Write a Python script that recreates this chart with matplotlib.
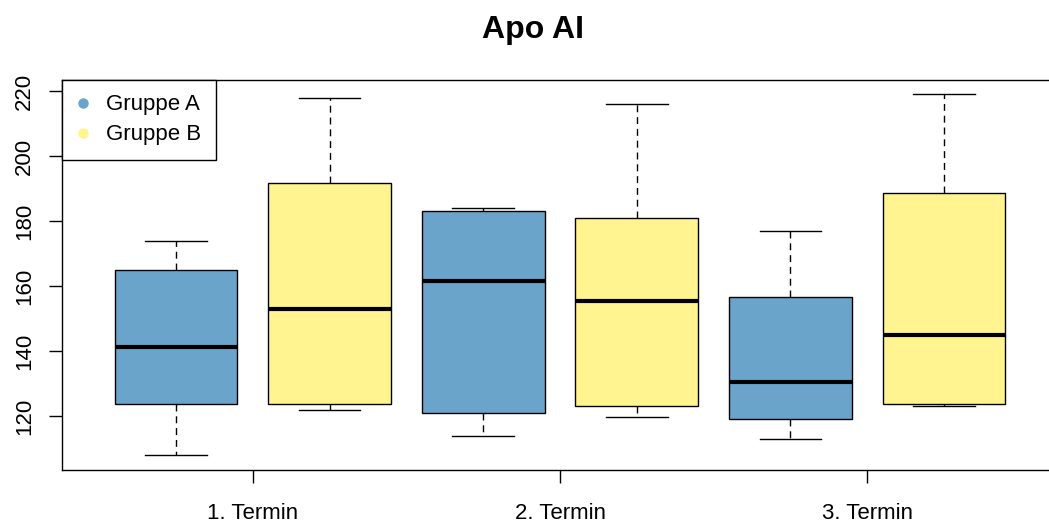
import matplotlib
matplotlib.use("Agg")
import matplotlib.pyplot as plt
from matplotlib.lines import Line2D

plt.rcParams['font.family'] = ['Liberation Sans', 'DejaVu Sans']

# Werte (Whisker unten, Q1, Median, Q3, Whisker oben)
termine = ['1. Termin', '2. Termin', '3. Termin']
gruppen = ['Gruppe A', 'Gruppe B']
farben = ['#6ba4cb', '#fff48f']

a_low = [108, 114, 113]
a_q1 = [123.7, 120.8, 119.1]
a_med = [141.3, 161.7, 130.5]
a_q3 = [165, 183.1, 156.6]
a_high = [174, 184, 177]

b_low = [121.8, 119.8, 123.1]
b_q1 = [123.7, 123.1, 123.7]
b_med = [152.9, 155.5, 144.9]
b_q3 = [191.7, 180.8, 188.6]
b_high = [218, 216, 219.2]


def make_stats(low, q1, med, q3, high):
    stats = []
    for i in range(len(low)):
        stats.append({'whislo': low[i], 'q1': q1[i], 'med': med[i],
                      'q3': q3[i], 'whishi': high[i], 'fliers': []})
    return stats


stats_a = make_stats(a_low, a_q1, a_med, a_q3, a_high)
stats_b = make_stats(b_low, b_q1, b_med, b_q3, b_high)

# abwechselnd A, B pro Termin
stats = []
cols = []
for i in range(len(termine)):
    stats.append(stats_a[i])
    cols.append(farben[0])
    stats.append(stats_b[i])
    cols.append(farben[1])
positions = list(range(1, len(stats) + 1))

fig = plt.figure(figsize=(10.49, 5.24), dpi=100)
ax = fig.add_axes([62 / 1049, 54 / 524, 996 / 1049, 390 / 524])

bp = ax.bxp(stats, positions=positions, widths=0.8, capwidths=0.4,
            patch_artist=True, showfliers=False,
            boxprops=dict(linewidth=1.0, edgecolor='black'),
            medianprops=dict(color='black', linewidth=3.0, solid_capstyle='butt'),
            whiskerprops=dict(color='black', linewidth=1.0, linestyle=(0, (5, 3.5))),
            capprops=dict(color='black', linewidth=1.0))
for patch, c in zip(bp['boxes'], cols):
    patch.set_facecolor(c)

ax.set_xlim(0.258, 6.742)
ax.set_ylim(103.4, 223.4)
ax.set_yticks([120, 140, 160, 180, 200, 220])
ax.set_xticks([1.5, 3.5, 5.5])
ax.set_xticklabels(termine)
ax.tick_params(axis='both', direction='out', length=9.5, width=1.0, labelsize=16)
ax.tick_params(axis='x', pad=14.5)
ax.tick_params(axis='y', pad=10)
for lab in ax.get_yticklabels():
    lab.set_rotation(90)
    lab.set_va('center')
for s in ax.spines.values():
    s.set_linewidth(1.0)

handles = [Line2D([0], [0], marker='o', linestyle='none', markersize=6.5,
                  markerfacecolor=c, markeredgecolor=c) for c in farben]
leg = ax.legend(handles, gruppen, loc='upper left', borderaxespad=0,
                fontsize=16, fancybox=False, edgecolor='black',
                framealpha=1, borderpad=0.65, handlelength=0.6,
                handletextpad=0.75, labelspacing=0.4)
leg.get_frame().set_linewidth(1.0)

fig.text(532.5 / 1049, 1 - 30 / 524, 'Apo AI', ha='center', va='center',
         fontsize=23, fontweight='bold')

fig.savefig('out.png', dpi=100)
